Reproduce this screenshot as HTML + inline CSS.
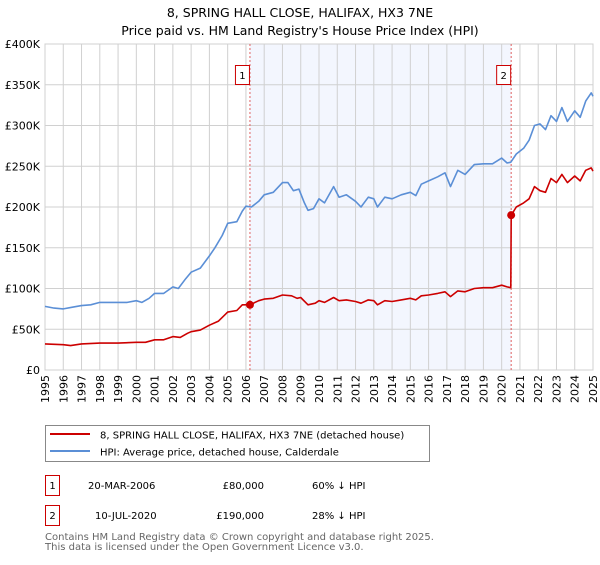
<!DOCTYPE html>
<html><head><meta charset="utf-8"><style>
body{margin:0;background:#fff;font-family:"Liberation Sans","DejaVu Sans",sans-serif;}
svg text{font-family:"DejaVu Sans","Liberation Sans",sans-serif;}
</style></head><body>
<svg id="c" width="600" height="560" xmlns="http://www.w3.org/2000/svg">
<text x="300" y="17" text-anchor="middle" font-size="12.5">8, SPRING HALL CLOSE, HALIFAX, HX3 7NE</text>
<text x="300" y="35" text-anchor="middle" font-size="12.5">Price paid vs. HM Land Registry's House Price Index (HPI)</text>
<g id="plot"></g>
<g>
<rect x="45.5" y="425.5" width="384" height="36" fill="#fff" stroke="#888"/>
<line x1="50" y1="434" x2="90" y2="434" stroke="#cc0000" stroke-width="2"/>
<text x="100" y="438.5" font-size="10">8, SPRING HALL CLOSE, HALIFAX, HX3 7NE (detached house)</text>
<line x1="50" y1="451" x2="90" y2="451" stroke="#5b8fd6" stroke-width="2"/>
<text x="100" y="455.5" font-size="10">HPI: Average price, detached house, Calderdale</text>
</g>
<g font-size="10">
<rect x="45.5" y="475.5" width="14" height="20" fill="#fff" stroke="#cc0000"/><text x="52.5" y="489" text-anchor="middle">1</text>
<text x="88" y="489">20-MAR-2006</text><text x="264" y="489" text-anchor="end">£80,000</text><text x="312" y="489">60% ↓ HPI</text>
<rect x="45.5" y="505.5" width="14" height="20" fill="#fff" stroke="#cc0000"/><text x="52.5" y="519" text-anchor="middle">2</text>
<text x="95" y="519">10-JUL-2020</text><text x="264" y="519" text-anchor="end">£190,000</text><text x="312" y="519">28% ↓ HPI</text>
</g>
<text x="45" y="540" font-size="10" fill="#666">Contains HM Land Registry data © Crown copyright and database right 2025.</text>
<text x="45" y="550" font-size="10" fill="#666">This data is licensed under the Open Government Licence v3.0.</text>
</svg>
<script>
const yTicks=[0,50,100,150,200,250,300,350,400];
const yTickLabels=["£0","£50K","£100K","£150K","£200K","£250K","£300K","£350K","£400K"];
const xYears=[1995,1996,1997,1998,1999,2000,2001,2002,2003,2004,2005,2006,2007,2008,2009,2010,2011,2012,2013,2014,2015,2016,2017,2018,2019,2020,2021,2022,2023,2024,2025];
const hpiT=[1995,1995.5,1996,1996.5,1997,1997.5,1998,1998.5,1999,1999.5,2000,2000.3,2000.7,2001,2001.5,2002,2002.3,2002.7,2003,2003.5,2004,2004.3,2004.7,2005,2005.5,2005.8,2006,2006.3,2006.7,2007,2007.5,2008,2008.3,2008.6,2008.9,2009.2,2009.4,2009.7,2010,2010.3,2010.8,2011.1,2011.5,2012,2012.3,2012.7,2013,2013.2,2013.6,2014,2014.5,2015,2015.3,2015.6,2016,2016.5,2016.9,2017.2,2017.6,2018,2018.5,2019,2019.5,2020,2020.3,2020.5,2020.8,2021.2,2021.5,2021.8,2022.1,2022.4,2022.7,2023,2023.3,2023.6,2024,2024.3,2024.6,2024.9,2025];
const hpiV=[78,76,75,77,79,80,83,83,83,83,85,83,88,94,94,102,100,112,120,125,140,150,165,180,182,195,201,200,207,215,218,230,230,220,222,205,196,198,210,205,225,212,215,207,200,212,210,200,212,210,215,218,214,228,232,237,242,225,245,240,252,253,253,260,254,255,265,272,282,300,302,295,312,305,322,305,318,310,330,340,336];
const ppT=[1995,1996,1996.4,1997,1998,1999,2000,2000.5,2001,2001.5,2002,2002.4,2002.8,2003,2003.5,2004,2004.5,2005,2005.5,2005.8,2006.22,2006.7,2007,2007.5,2008,2008.5,2008.8,2009,2009.4,2009.8,2010,2010.3,2010.8,2011.1,2011.5,2012,2012.3,2012.7,2013,2013.2,2013.6,2014,2014.5,2015,2015.3,2015.6,2016,2016.5,2016.9,2017.2,2017.6,2018,2018.5,2019,2019.5,2020,2020.3,2020.5,2020.52,2020.8,2021.2,2021.5,2021.8,2022.1,2022.4,2022.7,2023,2023.3,2023.6,2024,2024.3,2024.6,2024.9,2025];
const ppV=[32,31,30,32,33,33,34,34,37,37,41,40,45,47,49,55,60,71,73,80,80,85,87,88,92,91,88,89,80,82,85,83,89,85,86,84,82,86,85,80,85,84,86,88,86,91,92,94,96,90,97,96,100,101,101,104,102,101,190,200,205,210,225,220,218,235,230,240,230,238,232,245,248,244];
const saleT=[2006.22,2020.52];
const saleV=[80,190];
const saleLabels=["1","2"];

const X0=45,X1=593,Y0=370,Y1=44;
const xs=t=>X0+(t-1995)/(2025-1995)*(X1-X0);
const ys=v=>Y0-v/400*(Y0-Y1);
const NS="http://www.w3.org/2000/svg";
const g=document.getElementById('plot');
function mk(tag,attrs,parent){const e=document.createElementNS(NS,tag);for(const k in attrs)e.setAttribute(k,attrs[k]);(parent||g).appendChild(e);return e;}
const sh=mk('rect',{x:xs(saleT[0]),y:Y1,width:xs(saleT[1])-xs(saleT[0]),height:Y0-Y1,fill:'#f3f6fe'});


yTicks.forEach((v,i)=>{
 const l=mk('line',{x1:X0,x2:X1,y1:ys(v),y2:ys(v),stroke:'#d0d0d0','stroke-width':1});
 
 
 const t=mk('text',{x:40,y:ys(v)+4,'text-anchor':'end','font-size':11});
 
 
 t.textContent=yTickLabels[i];
});
xYears.forEach(y=>{
 const l=mk('line',{x1:xs(y),x2:xs(y),y1:Y1,y2:Y0,stroke:'#d0d0d0','stroke-width':1});
 
 
 const t=mk('text',{x:0,y:0,'text-anchor':'end','font-size':11,transform:`translate(${xs(y)+4},${Y0+5}) rotate(-90)`});
 
 
 t.textContent=y;
});
const fr=mk('rect',{x:X0,y:Y1,width:X1-X0,height:Y0-Y1,fill:'none',stroke:'#d0d0d0'});


saleT.forEach((t,i)=>{
 const l=mk('line',{x1:xs(t),x2:xs(t),y1:Y1,y2:Y0,stroke:'#e06060','stroke-dasharray':'2,2'});
 
 
 const b=mk('rect',{x:xs(t)-14.5,y:65.5,width:14,height:19,fill:'#fff',stroke:'#cc0000'});
 
 
 const tx=mk('text',{x:xs(t)-7.5,y:79,'text-anchor':'middle','font-size':10});
 
 
 tx.textContent=saleLabels[i];
});
function path(T,V,color,name){
 const d=T.map((t,i)=>(i?'L':'M')+xs(t).toFixed(1)+','+ys(V[i]).toFixed(1)).join('');
 const p=mk('path',{d:d,fill:'none',stroke:color,'stroke-width':1.6,'stroke-linejoin':'round'});
 
 
}
path(hpiT,hpiV,'#5b8fd6','hpi-line');
path(ppT,ppV,'#cc0000','property-price-line');
saleT.forEach((t,i)=>{
 const c=mk('circle',{cx:xs(t),cy:ys(saleV[i]),r:4,fill:'#cc0000'});
 
 
});
</script>
</body></html>
